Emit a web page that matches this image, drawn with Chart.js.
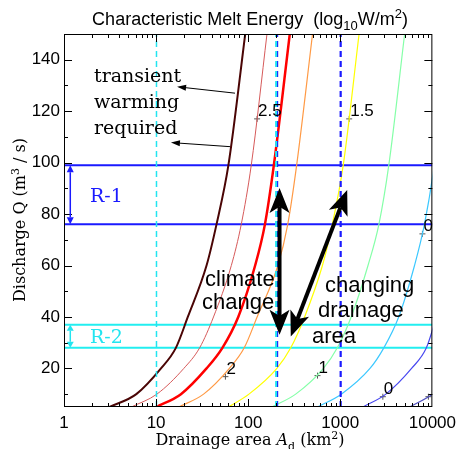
<!DOCTYPE html>
<html>
<head>
<meta charset="utf-8">
<script src="https://cdn.jsdelivr.net/npm/chart.js@4.4.1/dist/chart.umd.min.js"></script>
<style>
  body { margin: 0; background: #fff; }
</style>
</head>
<body>
<canvas id="meltChart" width="462" height="449"></canvas>
<script>
var qLevels = [5, 10, 20, 28, 40, 60, 76, 99, 150];
// drainage area (km2) of each melt energy contour at those discharges
var area275 = [3.12, 6.1, 11.3, 16.4, 22.1, 35.3, 45.3, 61.0, 92.9];
var area250 = [5.39, 10.2, 20.0, 29.7, 42.0, 65.6, 84.1, 108, 160];
var area225 = [10.0, 18.6, 35.3, 52.5, 78.0, 119, 152, 190, 283];
var area200 = [17.7, 32.8, 62.5, 90.6, 125, 210, 269, 336, 500];
var area150 = [61.0, 102, 205, 290, 410, 640, 820, 1077, 1600];
var area100 = [181, 328, 656, 929, 1313, 2000, 2627, 3365, 5000];
var area050 = [566, 1025, 2102, 2972, 4310, 6400, 8200, 10500, 15600];
var area000 = [1767, 3124, 5943, 8610, 11040, 16000];
var areaM050 = [5660, 10000, 21000];

// contour label markers
var markerArea = [125, 1250, 56.6, 566, 2900, 7800, 9060];
var markerQ = [117, 117, 16.8, 17.2, 9, 72.3, 9];
var markerText = ['2.5', '1.5', '2', '1', '0', '0', ''];

// discharge ranges of the two rivers
var rangeR1 = [76, 99];
var rangeR2 = [28, 37];
// drainage areas marked by dashed lines
var areaCyan = [10.1, 201];
var areaBlue = [206, 1010];

var xTicks = [1, 10, 100, 1000, 10000];
var yTicks = [20, 40, 60, 80, 100, 120, 140];

function pts(areas) {
  return areas.map(function (a, i) { return { x: a, y: qLevels[i] }; });
}

function curve(areas, color, width) {
  return {
    data: pts(areas), borderColor: color, borderWidth: width,
    pointRadius: 0, cubicInterpolationMode: 'monotone', fill: false
  };
}

function hline(q, color) {
  return {
    data: [{ x: 1, y: q }, { x: 10000, y: q }], borderColor: color,
    borderWidth: 2, pointRadius: 0
  };
}

function vline(a, color, width) {
  return {
    data: [{ x: a, y: 5 }, { x: a, y: 150 }], borderColor: color,
    borderWidth: width, borderDash: [6, 4], pointRadius: 0
  };
}

var datasets = [
  vline(areaCyan[0], '#22e5f0', 1.5),
  vline(areaCyan[1], '#22e5f0', 2),
  vline(areaBlue[0], '#1a1aff', 2.2),
  vline(areaBlue[1], '#1a1aff', 2.2),
  curve(area275, '#4a0505', 2),
  curve(area250, '#d65a5a', 1),
  curve(area225, '#ff0000', 2.5),
  curve(area200, '#ff9a45', 1.2),
  curve(area150, '#ffff00', 1.2),
  curve(area100, '#85ffa8', 1.2),
  curve(area050, '#3cc8ff', 1.2),
  curve(area000, '#4848f0', 1.2),
  curve(areaM050, '#5050c0', 1.2),
  hline(rangeR1[0], '#1a1aff'),
  hline(rangeR1[1], '#1a1aff'),
  hline(rangeR2[0], '#22eef0'),
  hline(rangeR2[1], '#22eef0'),
  {
    type: 'scatter',
    data: markerArea.map(function (a, i) { return { x: a, y: markerQ[i] }; }),
    pointStyle: 'cross', pointRadius: 3, borderColor: '#555', borderWidth: 1
  }
];

function dart(ctx, x0, y0, x1, y1, len, half, notch) {
  var ang = Math.atan2(y1 - y0, x1 - x0);
  var dx = Math.cos(ang), dy = Math.sin(ang);
  ctx.beginPath();
  ctx.moveTo(x1, y1);
  ctx.lineTo(x1 - len * dx - half * dy, y1 - len * dy + half * dx);
  ctx.lineTo(x1 - len * notch * dx, y1 - len * notch * dy);
  ctx.lineTo(x1 - len * dx + half * dy, y1 - len * dy - half * dx);
  ctx.closePath();
  ctx.fill();
}

function arrow(ctx, x0, y0, x1, y1, width, len, half, notch, both) {
  var ang = Math.atan2(y1 - y0, x1 - x0);
  var dx = Math.cos(ang), dy = Math.sin(ang);
  var inset = len * notch;
  ctx.lineWidth = width;
  ctx.beginPath();
  if (both) ctx.moveTo(x0 + inset * dx, y0 + inset * dy); else ctx.moveTo(x0, y0);
  ctx.lineTo(x1 - inset * dx, y1 - inset * dy);
  ctx.stroke();
  dart(ctx, x0, y0, x1, y1, len, half, notch);
  if (both) dart(ctx, x1, y1, x0, y0, len, half, notch);
}

// draws pieces like ['n','text'] / ['sub','10'] / ['sup','2'] / ['it','A']
function richText(ctx, parts, x, y, size, family, align) {
  function fontFor(p) {
    var s = (p[0] === 'sub' || p[0] === 'sup') ? Math.round(size * 0.7) : size;
    return (p[0] === 'it' ? 'italic ' : '') + s + 'px ' + family;
  }
  var total = 0;
  parts.forEach(function (p) { ctx.font = fontFor(p); total += ctx.measureText(p[1]).width; });
  var cx = align === 'center' ? x - total / 2 : x;
  ctx.textAlign = 'left';
  ctx.textBaseline = 'alphabetic';
  parts.forEach(function (p) {
    ctx.font = fontFor(p);
    var dy = p[0] === 'sub' ? size * 0.3 : (p[0] === 'sup' ? -size * 0.4 : 0);
    ctx.fillText(p[1], cx, y + dy);
    cx += ctx.measureText(p[1]).width;
  });
}

var decorations = {
  id: 'decorations',
  afterDatasetsDraw: function (chart) {
    var ctx = chart.ctx, a = chart.chartArea;
    var xs = chart.scales.x, ys = chart.scales.y;
    function px(v) { return xs.getPixelForValue(v); }
    function py(v) { return ys.getPixelForValue(v); }
    ctx.save();

    // frame with inward ticks
    ctx.strokeStyle = '#000';
    ctx.lineWidth = 1;
    ctx.strokeRect(a.left + 0.5, a.top + 0.5, a.right - a.left - 1, a.bottom - a.top - 1);
    ctx.beginPath();
    for (var k = 0; k < 4; k++) {
      for (var m = 1; m <= 9; m++) {
        var v = m * Math.pow(10, k);
        var x = Math.round(px(v)) + 0.5;
        var L = m === 1 ? 8 : 4;
        if (m === 1 && k === 0) continue;
        ctx.moveTo(x, a.bottom); ctx.lineTo(x, a.bottom - L);
        ctx.moveTo(x, a.top); ctx.lineTo(x, a.top + L);
      }
    }
    for (var q = 10; q < 150; q += 10) {
      var y = Math.round(py(q)) + 0.5;
      var Ly = q % 20 === 0 ? 8 : 4;
      ctx.moveTo(a.left, y); ctx.lineTo(a.left + Ly, y);
      ctx.moveTo(a.right, y); ctx.lineTo(a.right - Ly, y);
    }
    ctx.stroke();

    ctx.save();
    ctx.beginPath();
    ctx.rect(a.left, a.top, a.right - a.left, a.bottom - a.top);
    ctx.clip();

    // contour labels
    ctx.fillStyle = '#000';
    ctx.font = '17px "Liberation Sans", Arial, sans-serif';
    ctx.textAlign = 'left';
    ctx.textBaseline = 'alphabetic';
    markerArea.forEach(function (ar, i) {
      ctx.fillText(markerText[i], px(ar) + 1, py(markerQ[i]) - 3);
    });

    // river range arrows
    ctx.fillStyle = '#1a1aff'; ctx.strokeStyle = '#1a1aff';
    arrow(ctx, px(1.17), py(rangeR1[0]), px(1.17), py(rangeR1[1]), 1.5, 7, 3.5, 1, true);
    ctx.fillStyle = '#22e5f0'; ctx.strokeStyle = '#22e5f0';
    arrow(ctx, px(1.17), py(rangeR2[0]), px(1.17), py(rangeR2[1]), 1.5, 6, 3.5, 1, true);
    ctx.font = '19px "DejaVu Serif", serif';
    ctx.fillStyle = '#1a1aff';
    ctx.fillText('R-1', 90, py(87.5) + 7);
    ctx.fillStyle = '#22e5f0';
    ctx.fillText('R-2', 90, py(32.5) + 7);

    // transient warming annotation
    ctx.fillStyle = '#000'; ctx.strokeStyle = '#000';
    ctx.font = '19px "DejaVu Serif", serif';
    ctx.fillText('transient', 94, 82);
    ctx.fillText('warming', 94, 108);
    ctx.fillText('required', 94, 134);
    arrow(ctx, px(71.9), py(127), px(16.9), py(129.5), 1, 9, 3, 1, false);
    arrow(ctx, px(63.6), py(106.2), px(14.5), py(107.8), 1, 9, 3, 1, false);

    // big arrows
    arrow(ctx, px(219), py(33.1), px(219), py(90.1), 4, 25, 10, 0.75, true);
    arrow(ctx, px(290), py(32.4), px(1189), py(89.4), 4, 25, 10, 0.75, true);

    ctx.font = '22px "Liberation Sans", Arial, sans-serif';
    ctx.fillText('climate', 205, 286);
    ctx.fillText('change', 202, 309);
    ctx.fillText('changing', 325, 292);
    ctx.fillText('drainage', 318, 317);
    ctx.fillText('area', 312, 343);
    ctx.restore();

    // title and axis titles
    ctx.fillStyle = '#000';
    richText(ctx, [['n', 'Characteristic Melt Energy  (log'], ['sub', '10'], ['n', 'W/m'], ['sup', '2'], ['n', ')']],
      250, 25, 18, '"Liberation Sans", Arial, sans-serif', 'center');
    richText(ctx, [['n', 'Drainage area '], ['it', 'A'], ['sub', 'd'], ['n', ' (km'], ['sup', '2'], ['n', ')']],
      250, 445, 16, '"DejaVu Serif", serif', 'center');
    ctx.translate(25, 220);
    ctx.rotate(-Math.PI / 2);
    richText(ctx, [['n', 'Discharge Q (m'], ['sup', '3'], ['n', ' / s)']],
      0, 0, 16, '"DejaVu Serif", serif', 'center');
    ctx.restore();
  }
};

var ctx = document.getElementById('meltChart').getContext('2d');
var meltChart = new Chart(ctx, {
  type: 'line',
  data: { datasets: datasets },
  options: {
    responsive: false,
    animation: false,
    layout: { padding: { left: 0, right: 26, top: 34, bottom: 0 } },
    plugins: { legend: { display: false }, tooltip: { enabled: false } },
    scales: {
      x: {
        type: 'logarithmic', min: 1, max: 10000,
        grid: { display: false, drawTicks: false }, border: { display: false },
        ticks: {
          color: '#000', padding: 6, maxRotation: 0, autoSkip: false,
          font: { family: '"Liberation Sans", Arial, sans-serif', size: 17 },
          callback: function (v) { return String(v); }
        },
        afterBuildTicks: function (s) { s.ticks = xTicks.map(function (v) { return { value: v }; }); },
        afterFit: function (s) { s.height = 42; }
      },
      y: {
        type: 'linear', min: 5, max: 150,
        grid: { display: false, drawTicks: false }, border: { display: false },
        ticks: {
          color: '#000', padding: 4,
          font: { family: '"Liberation Sans", Arial, sans-serif', size: 17 }
        },
        afterBuildTicks: function (s) { s.ticks = yTicks.map(function (v) { return { value: v }; }); },
        afterFit: function (s) { s.width = 64; }
      }
    }
  },
  plugins: [decorations]
});
</script>
</body>
</html>
